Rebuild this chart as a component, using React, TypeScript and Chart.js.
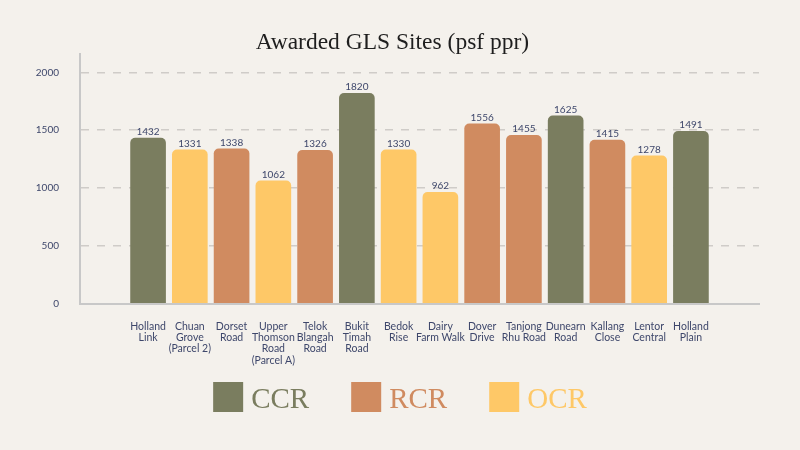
import React, { useEffect, useRef } from "react";
import { Chart, registerables } from "chart.js";

Chart.register(...registerables);

const title = "Awarded GLS Sites (psf ppr)";
const categories: string[][] = [
  ["Holland", "Link"],
  ["Chuan", "Grove", "(Parcel 2)"],
  ["Dorset", "Road"],
  ["Upper", "Thomson", "Road", "(Parcel A)"],
  ["Telok", "Blangah", "Road"],
  ["Bukit", "Timah", "Road"],
  ["Bedok", "Rise"],
  ["Dairy", "Farm Walk"],
  ["Dover", "Drive"],
  ["Tanjong", "Rhu Road"],
  ["Dunearn", "Road"],
  ["Kallang", "Close"],
  ["Lentor", "Central"],
  ["Holland", "Plain"],
];
const prices = [1432, 1331, 1338, 1062, 1326, 1820, 1330, 962, 1556, 1455, 1625, 1415, 1278, 1491];
const regions = ["CCR", "OCR", "RCR", "OCR", "RCR", "CCR", "OCR", "OCR", "RCR", "RCR", "CCR", "RCR", "OCR", "CCR"];
const regionNames = ["CCR", "RCR", "OCR"];
const regionColors = ["#7a7d5f", "#d08b60", "#fec867"];
const yTicks = [0, 500, 1000, 1500, 2000];

const NAVY = "#3e476b";
const BG = "#f4f1ec";

export default function App() {
  const ref = useRef<HTMLCanvasElement | null>(null);

  useEffect(() => {
    document.body.style.margin = "0";
    document.body.style.background = BG;
    const canvas = ref.current;
    if (!canvas) return;

    const overlay = {
      id: "overlay",
      afterDatasetsDraw(chart: any) {
        const ctx = chart.ctx;
        const meta = chart.getDatasetMeta(0);
        ctx.save();
        ctx.font = "10px Lato";
        ctx.fillStyle = NAVY;
        ctx.textAlign = "center";
        ctx.textBaseline = "alphabetic";
        meta.data.forEach((el: any, i: number) => {
          ctx.fillText(String(prices[i]), el.x, el.y - 3);
        });
        ctx.restore();
      },
      afterDraw(chart: any) {
        const ctx = chart.ctx;
        ctx.save();
        // title
        ctx.font = "23.5px 'Liberation Serif'";
        ctx.fillStyle = "#1e1e1e";
        ctx.textAlign = "center";
        ctx.textBaseline = "alphabetic";
        ctx.fillText(title, 392.5, 48.5);
        // legend
        ctx.font = "29px 'Liberation Serif'";
        ctx.textAlign = "left";
        const box = 30;
        const gapText = 8;
        const gapItem = 42;
        const widths = regionNames.map((n) => ctx.measureText(n).width);
        const total =
          widths.reduce((a, w) => a + box + gapText + w, 0) + gapItem * (regionNames.length - 1);
        let x = 400 - total / 2;
        regionNames.forEach((n, i) => {
          ctx.fillStyle = regionColors[i];
          ctx.fillRect(x, 382, box, box);
          ctx.fillText(n, x + box + gapText, 408);
          x += box + gapText + widths[i] + gapItem;
        });
        ctx.restore();
      },
    };

    const chart = new Chart(canvas, {
      type: "bar",
      data: {
        datasets: [
          {
            data: prices.map((v, i) => ({ x: i, y: v })),
            backgroundColor: regions.map((r) => regionColors[regionNames.indexOf(r)]),
            barThickness: 35,
            borderRadius: 5,
          },
        ],
      },
      options: {
        responsive: false,
        animation: false,
        layout: { padding: { top: 54, right: 41, left: 0, bottom: 0 } },
        plugins: {
          legend: { display: false },
          tooltip: { enabled: false },
          title: { display: false },
        },
        scales: {
          x: {
            type: "linear",
            offset: false,
            min: -1.63,
            max: 14.63,
            grid: { display: false, drawTicks: false },
            border: { color: "#c8c8c8", width: 2 },
            afterBuildTicks: (s: any) => {
              s.ticks = categories.map((_, i) => ({ value: i }));
            },
            afterFit: (s: any) => {
              s.height = 146.5;
            },
            ticks: {
              autoSkip: false,
              maxRotation: 0,
              minRotation: 0,
              padding: 17,
              color: NAVY,
              font: { family: "Lato", size: 10.5, lineHeight: 1.08 },
              callback: (v: any) => categories[v] ?? "",
            },
          },
          y: {
            min: 0,
            max: 2160,
            afterBuildTicks: (s: any) => {
              s.ticks = yTicks.map((v) => ({ value: v }));
            },
            afterFit: (s: any) => {
              s.width = 80;
            },
            grid: {
              drawTicks: false,
              lineWidth: 1.5,
              color: (c: any) => (c.tick && c.tick.value === 0 ? "rgba(0,0,0,0)" : "#cfccc8"),
            },
            border: { color: "#c8c8c8", width: 2, dash: [8, 8] },
            ticks: {
              padding: 21,
              color: NAVY,
              font: { family: "Lato", size: 10 },
              callback: (v: any) => String(v),
            },
          },
        },
      },
      plugins: [overlay],
    } as any);

    return () => chart.destroy();
  }, []);

  return (
    <div style={{ width: 800, height: 450, background: BG }}>
      <canvas ref={ref} width={800} height={450} style={{ display: "block" }} />
    </div>
  );
}
